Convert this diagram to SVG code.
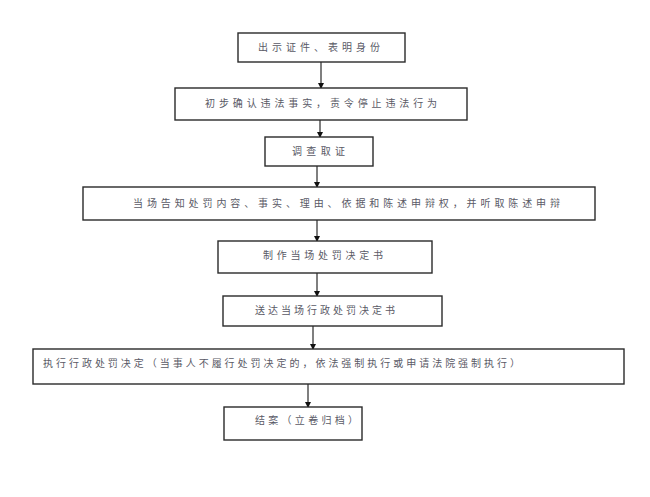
<svg xmlns="http://www.w3.org/2000/svg" width="650" height="497" viewBox="0 0 650 497">
<style>
.box{fill:#fff;stroke:#2a2a2a;stroke-width:1.4}
.t{font-family:"Noto Sans CJK SC","Noto Sans",sans-serif;font-size:10px;fill:#5a5a66}
.c{stroke:#555;stroke-width:1.5;fill:none}
</style>
<defs>
<marker id="ah" markerWidth="6" markerHeight="6" refX="5" refY="3" orient="auto" markerUnits="userSpaceOnUse">
<path d="M0,0 L6,3 L0,6 Z" fill="#111"/>
</marker>
</defs>
<rect width="650" height="497" fill="#fff"/>
<g id="connectors">
<line class="c" x1="321" y1="62" x2="321" y2="88" marker-end="url(#ah)"/>
<line class="c" x1="320" y1="120" x2="320" y2="137" marker-end="url(#ah)"/>
<line class="c" x1="317" y1="166" x2="317" y2="187" marker-end="url(#ah)"/>
<line class="c" x1="317" y1="220" x2="317" y2="241" marker-end="url(#ah)"/>
<line class="c" x1="317" y1="273" x2="317" y2="296" marker-end="url(#ah)"/>
<line class="c" x1="313" y1="326" x2="313" y2="349" marker-end="url(#ah)"/>
<line class="c" x1="308" y1="384" x2="308" y2="407" marker-end="url(#ah)"/>
</g>
<g id="n1"><rect class="box" x="238" y="33" width="167" height="29"/><text class="t" x="258" y="51" textLength="122" lengthAdjust="spacing">出示证件、表明身份</text></g>
<g id="n2"><rect class="box" x="175" y="88" width="292" height="32"/><text class="t" x="205" y="107" textLength="232" lengthAdjust="spacing">初步确认违法事实，责令停止违法行为</text></g>
<g id="n3"><rect class="box" x="265" y="137" width="108" height="29"/><text class="t" x="292" y="155" textLength="53" lengthAdjust="spacing">调查取证</text></g>
<g id="n4"><rect class="box" x="83" y="187" width="512" height="33"/><text class="t" x="133" y="207" textLength="427" lengthAdjust="spacing">当场告知处罚内容、事实、理由、依据和陈述申辩权，并听取陈述申辩</text></g>
<g id="n5"><rect class="box" x="218" y="241" width="214" height="32"/><text class="t" x="263" y="259" textLength="120" lengthAdjust="spacing">制作当场处罚决定书</text></g>
<g id="n6"><rect class="box" x="223" y="296" width="219" height="30"/><text class="t" x="255" y="314" textLength="140" lengthAdjust="spacing">送达当场行政处罚决定书</text></g>
<g id="n7"><rect class="box" x="33" y="349" width="591" height="35"/><text class="t" x="43" y="367" textLength="477" lengthAdjust="spacing">执行行政处罚决定（当事人不履行处罚决定的，依法强制执行或申请法院强制执行）</text></g>
<g id="n8"><rect class="box" x="224" y="407" width="138" height="33"/><text class="t" x="255" y="424" textLength="103" lengthAdjust="spacing">结案（立卷归档）</text></g>
</svg>
